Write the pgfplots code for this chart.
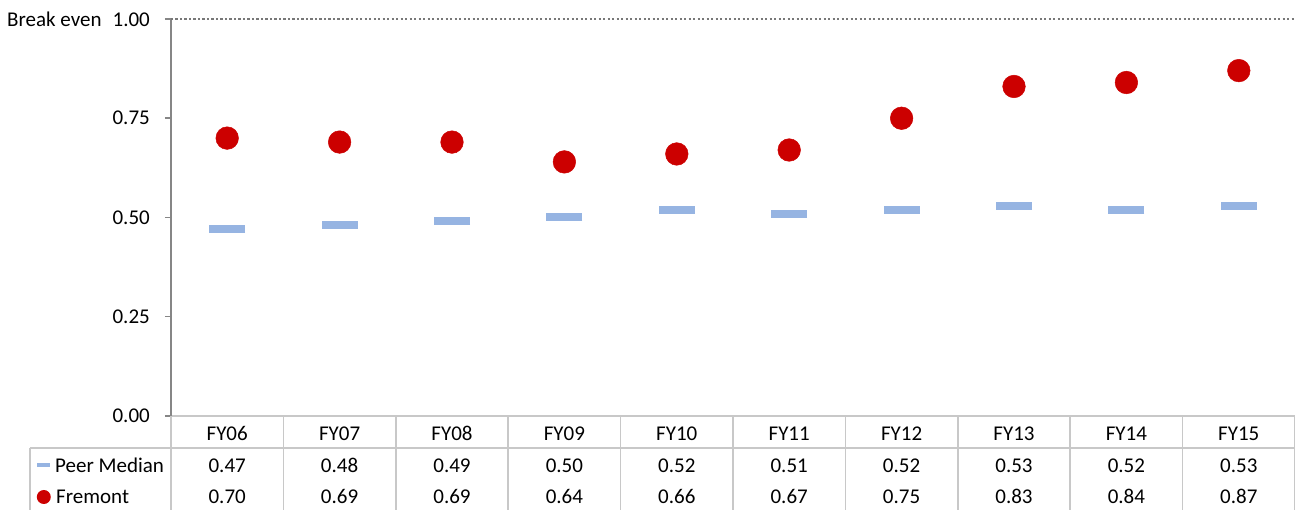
\documentclass[border=0pt]{standalone}
\usepackage{pgfplots}
\pgfplotsset{compat=1.18}
\usepackage{fontspec}
\setmainfont{Carlito}
\definecolor{fremont}{RGB}{204,0,0}
\definecolor{peer}{RGB}{150,180,226}
\definecolor{axgray}{RGB}{134,134,134}
\definecolor{dotgray}{RGB}{120,120,120}
\definecolor{tabgray}{RGB}{200,200,200}
\begin{document}
\fontsize{21}{25}\selectfont
\begin{tikzpicture}[x=1pt,y=1pt]
\begin{axis}[
 at={(0,0)}, anchor=origin,
 scale only axis, width=1124pt, height=397pt,
 xmin=0, xmax=10, ymin=0, ymax=1,
 axis lines*=left,
 x axis line style={draw=tabgray, line width=1.5pt},
 y axis line style={draw=axgray, line width=2pt},
 xtick=\empty,
 ytick={0,0.25,0.5,0.75,1},
 yticklabels={0.00,0.25,0.50,0.75,{Break even\hspace{11pt}1.00}},
 tick align=outside,
 major tick length=6pt,
 ytick style={draw=axgray, line width=1.5pt},
 yticklabel style={font=\fontsize{21}{25}\selectfont, inner sep=0pt, xshift=-15pt},
 clip=false,
]
\draw[dotgray, line width=2.4pt, dash pattern=on 2.2pt off 2.3pt] (axis cs:0,1) -- (axis cs:10,1);
\addplot[only marks, color=peer, mark=-, mark size=18pt, mark options={draw=peer, line width=8pt}] coordinates {
 (0.5,0.47) (1.5,0.48) (2.5,0.49) (3.5,0.50) (4.5,0.52) (5.5,0.51) (6.5,0.52) (7.5,0.53) (8.5,0.52) (9.5,0.53)};
\addplot[only marks, color=fremont, mark=*, mark size=11.3pt, mark options={draw=fremont, fill=fremont, line width=0.5pt}] coordinates {
 (0.5,0.70) (1.5,0.69) (2.5,0.69) (3.5,0.64) (4.5,0.66) (5.5,0.67) (6.5,0.75) (7.5,0.83) (8.5,0.84) (9.5,0.87)};
\end{axis}
\foreach \i in {0,...,10} \draw[tabgray, line width=1.5pt] (\i*112.4,0) -- (\i*112.4,-94);
\draw[tabgray, line width=1.5pt] (-141,-32) -- (1124,-32);
\draw[tabgray, line width=1.5pt] (-141,-32) -- (-141,-94);
\foreach \n [count=\i from 0] in {FY06,FY07,FY08,FY09,FY10,FY11,FY12,FY13,FY14,FY15}
  \node[anchor=base, inner sep=0pt] at ({(\i+0.5)*112.4},-25) {\n};
\foreach \n [count=\i from 0] in {0.47,0.48,0.49,0.50,0.52,0.51,0.52,0.53,0.52,0.53}
  \node[anchor=base, inner sep=0pt] at ({(\i+0.5)*112.4},-57) {\n};
\foreach \n [count=\i from 0] in {0.70,0.69,0.69,0.64,0.66,0.67,0.75,0.83,0.84,0.87}
  \node[anchor=base, inner sep=0pt] at ({(\i+0.5)*112.4},-88) {\n};
\fill[peer] (-134,-51) rectangle (-121,-47);
\fill[fremont] (-127.2,-81) circle (7);
\node[anchor=base west, inner sep=0pt] at (-116,-57) {Peer Median};
\node[anchor=base west, inner sep=0pt] at (-115,-88) {Fremont};
\pgfresetboundingbox
\useasboundingbox (-171,-94) rectangle (1124,416);
\end{tikzpicture}
\end{document}
